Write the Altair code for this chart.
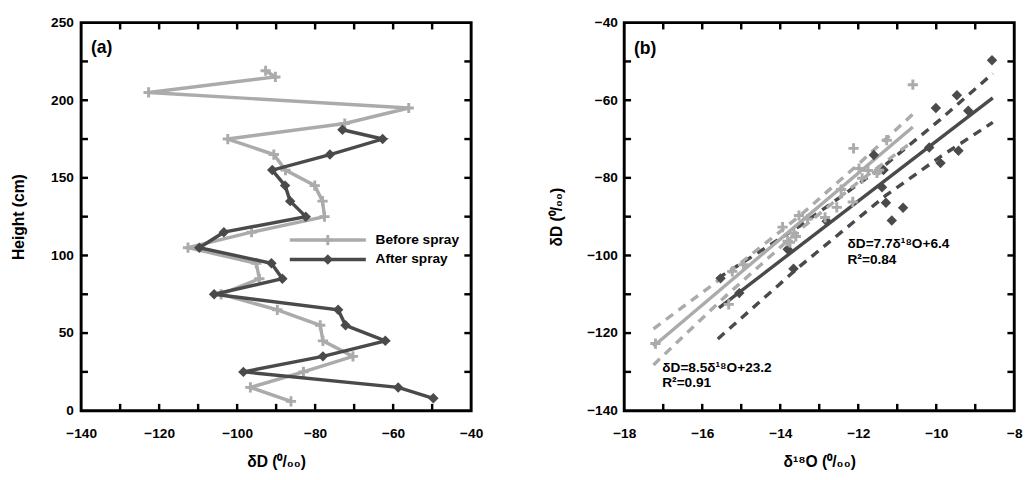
import altair as alt
import pandas as pd

# ---------------- Panel (a): height profiles ----------------
before_height = [219, 215, 205, 195, 185, 175, 165, 155, 145, 135, 125, 115, 105, 95, 85, 75, 65, 55, 45, 35, 25, 15, 6]
before_dD = [-92.7, -90.2, -122.7, -56.0, -72.4, -102.4, -90.6, -87.6, -80.1, -78.1, -77.6, -96.3,
             -112.6, -95.1, -94.3, -104.1, -89.7, -78.7, -78.0, -70.3, -83.0, -96.6, -86.2]
after_height = [181, 175, 165, 155, 145, 135, 125, 115, 105, 95, 85, 75, 65, 55, 45, 35, 25, 15, 8]
after_dD = [-73.0, -62.7, -76.2, -91.0, -87.7, -86.4, -82.4, -103.4, -109.7, -91.2, -88.4, -105.9,
            -74.1, -72.2, -62.0, -78.0, -98.4, -58.7, -49.7]

# ---------------- Panel (b): dD vs d18O ----------------
b_before_d18O = [-10.6, -11.27, -12.12, -11.98, -11.47, -11.75, -11.52, -11.9, -12.44, -12.14, -12.55, -13.52,
                 -12.85, -13.3, -13.94, -13.65, -13.6, -13.81, -13.75, -14.94, -15.23, -15.32, -17.2]
b_before_dD = [-56.0, -70.3, -72.4, -77.6, -78.0, -78.1, -78.7, -80.1, -83.0, -86.2, -87.6, -89.7,
               -90.2, -90.6, -92.7, -94.3, -95.1, -96.3, -96.6, -102.4, -104.1, -112.6, -122.7]
b_after_d18O = [-8.57, -9.47, -10.01, -9.18, -10.18, -9.43, -11.6, -9.89, -11.35, -11.39, -11.29, -10.85,
                -11.14, -12.81, -13.81, -13.66, -15.53, -15.05]
b_after_dD = [-49.7, -58.7, -62.0, -62.7, -72.2, -73.0, -74.1, -76.2, -78.0, -82.4, -86.4, -87.7,
              -91.0, -91.2, -98.4, -103.4, -105.9, -109.7]

fit_before_x = [-17.25, -10.6]
fit_before_y = [-123.4, -66.9]
fit_after_x = [-15.57, -8.55]
fit_after_y = [-113.5, -59.4]

band_before_x = [-17.25, -15.5, -13.5, -12.0, -10.6]
band_before_upper = [-118.9, -105.8, -89.8, -76.5, -63.6]
band_before_lower = [-128.2, -111.4, -93.4, -81.1, -70.6]
band_after_x = [-15.6, -13.5, -11.3, -9.9, -8.55]
band_after_upper = [-105.9, -92.4, -76.6, -65.0, -53.1]
band_after_lower = [-121.5, -102.8, -84.6, -74.6, -65.7]

# axis tick values
a_x_labels = [-140, -120, -100, -80, -60, -40]
a_y_labels = [0, 50, 100, 150, 200, 250]
a_x_ticks = [-130, -120, -110, -100, -90, -80, -70, -60, -50]
a_y_ticks = [25, 50, 75, 100, 125, 150, 175, 200, 225]
b_x_labels = [-18, -16, -14, -12, -10, -8]
b_y_labels = [-140, -120, -100, -80, -60, -40]
b_x_ticks = [-17, -16, -15, -14, -13, -12, -11, -10, -9]
b_y_ticks = [-130, -120, -110, -100, -90, -80, -70, -60, -50]

legend_labels = ["Before spray", "After spray"]
eq_after = ["δD=7.7δ¹⁸O+6.4", "R²=0.84"]
eq_before = ["δD=8.5δ¹⁸O+23.2", "R²=0.91"]

LIGHT = "#ababab"
DARK = "#4a4a4a"
FONT = "Liberation Sans"
W, H = 400, 398
TICK = 7
PLUS = "M-1,0L1,0M0,-1L0,1"


def inner_ticks(xvals, yvals, xf, yf):
    xs = pd.DataFrame({xf: xvals})
    ys = pd.DataFrame({yf: yvals})
    common = dict(color="black", strokeWidth=2.5)
    bottom = alt.Chart(xs).mark_rule(**common).encode(
        x=alt.X(f"{xf}:Q"), y=alt.value(H), y2=alt.value(H - TICK))
    top = alt.Chart(xs).mark_rule(**common).encode(
        x=alt.X(f"{xf}:Q"), y=alt.value(0), y2=alt.value(TICK))
    left = alt.Chart(ys).mark_rule(**common).encode(
        y=alt.Y(f"{yf}:Q"), x=alt.value(0), x2=alt.value(TICK))
    right = alt.Chart(ys).mark_rule(**common).encode(
        y=alt.Y(f"{yf}:Q"), x=alt.value(W), x2=alt.value(W - TICK))
    return [bottom, top, left, right]


def text_layer(txt, x, y, size=14):
    return alt.Chart(pd.DataFrame({"t": [txt]})).mark_text(
        align="left", baseline="middle", font=FONT, fontSize=size, fontWeight="bold", color="black"
    ).encode(x=alt.value(x), y=alt.value(y), text="t:N")


# ---------------- build panel (a) ----------------
xsc_a = alt.Scale(domain=[-140, -40], nice=False, zero=False)
ysc_a = alt.Scale(domain=[0, 250], nice=False, zero=False)
xax_a = alt.Axis(values=a_x_labels, title="δD (⁰/₀₀)", labelFlush=False, labelPadding=16, titlePadding=14,
                 labelOverlap=False)
yax_a = alt.Axis(values=a_y_labels, title="Height (cm)", labelPadding=8, titlePadding=25, labelOverlap=False)

dfa_b = pd.DataFrame({"dD": before_dD, "h": before_height, "i": list(range(len(before_dD)))})
dfa_a = pd.DataFrame({"dD": after_dD, "h": after_height, "i": list(range(len(after_dD)))})

line_b = alt.Chart(dfa_b).mark_line(color=LIGHT, strokeWidth=3.5).encode(
    x=alt.X("dD:Q", scale=xsc_a, axis=xax_a), y=alt.Y("h:Q", scale=ysc_a, axis=yax_a), order="i:Q")
pts_b = alt.Chart(dfa_b).mark_point(shape=PLUS, filled=False, size=110, strokeWidth=3, color=LIGHT, opacity=1).encode(
    x="dD:Q", y="h:Q")
line_a = alt.Chart(dfa_a).mark_line(color=DARK, strokeWidth=3.5).encode(
    x="dD:Q", y="h:Q", order="i:Q")
pts_a = alt.Chart(dfa_a).mark_point(shape="diamond", filled=True, size=115, color=DARK, opacity=1).encode(
    x="dD:Q", y="h:Q")

leg_df1 = pd.DataFrame({"t": [legend_labels[0]]})
leg_df2 = pd.DataFrame({"t": [legend_labels[1]]})
leg = [
    alt.Chart(leg_df1).mark_rule(color=LIGHT, strokeWidth=3.5).encode(
        x=alt.value(214), x2=alt.value(292), y=alt.value(223)),
    alt.Chart(leg_df1).mark_point(shape=PLUS, filled=False, size=110, strokeWidth=3, color=LIGHT, opacity=1).encode(
        x=alt.value(253), y=alt.value(223)),
    text_layer(legend_labels[0], 302, 223),
    alt.Chart(leg_df2).mark_rule(color=DARK, strokeWidth=3.5).encode(
        x=alt.value(214), x2=alt.value(292), y=alt.value(243)),
    alt.Chart(leg_df2).mark_point(shape="diamond", filled=True, size=115, color=DARK, opacity=1).encode(
        x=alt.value(253), y=alt.value(243)),
    text_layer(legend_labels[1], 302, 243),
]

panel_a = alt.layer(
    line_b, pts_b, line_a, pts_a,
    *inner_ticks(a_x_ticks, a_y_ticks, "dD", "h"),
    *leg,
    text_layer("(a)", 10, 26, 18),
).properties(width=W, height=H)

# ---------------- build panel (b) ----------------
xsc_b = alt.Scale(domain=[-18, -8], nice=False, zero=False)
ysc_b = alt.Scale(domain=[-140, -40], nice=False, zero=False)
xax_b = alt.Axis(values=b_x_labels, title="δ¹⁸O (⁰/₀₀)", labelFlush=False, labelPadding=16, titlePadding=14,
                 labelOverlap=False)
yax_b = alt.Axis(values=b_y_labels, title="δD (⁰/₀₀)", labelPadding=7, titlePadding=23, labelOverlap=False)

dfb_b = pd.DataFrame({"o": b_before_d18O, "d": b_before_dD})
dfb_a = pd.DataFrame({"o": b_after_d18O, "d": b_after_dD})
fit_b = pd.DataFrame({"o": fit_before_x, "d": fit_before_y})
fit_a = pd.DataFrame({"o": fit_after_x, "d": fit_after_y})
band_b = pd.DataFrame({"o": band_before_x * 2, "d": band_before_upper + band_before_lower,
                       "g": ["u"] * len(band_before_x) + ["l"] * len(band_before_x)})
band_a = pd.DataFrame({"o": band_after_x * 2, "d": band_after_upper + band_after_lower,
                       "g": ["u"] * len(band_after_x) + ["l"] * len(band_after_x)})

band_a_l = alt.Chart(band_a).mark_line(color=DARK, strokeWidth=3.5, strokeDash=[9, 7]).encode(
    x=alt.X("o:Q", scale=xsc_b, axis=xax_b), y=alt.Y("d:Q", scale=ysc_b, axis=yax_b), detail="g:N")
band_b_l = alt.Chart(band_b).mark_line(color=LIGHT, strokeWidth=3.5, strokeDash=[9, 7]).encode(
    x="o:Q", y="d:Q", detail="g:N")
fit_a_l = alt.Chart(fit_a).mark_line(color=DARK, strokeWidth=3.5).encode(x="o:Q", y="d:Q")
fit_b_l = alt.Chart(fit_b).mark_line(color=LIGHT, strokeWidth=3.5).encode(x="o:Q", y="d:Q")
sc_a = alt.Chart(dfb_a).mark_point(shape="diamond", filled=True, size=115, color=DARK, opacity=1).encode(
    x="o:Q", y="d:Q")
sc_b = alt.Chart(dfb_b).mark_point(shape=PLUS, filled=False, size=110, strokeWidth=3, color=LIGHT, opacity=1).encode(
    x="o:Q", y="d:Q")

panel_b = alt.layer(
    band_a_l, band_b_l, fit_a_l, fit_b_l, sc_a, sc_b,
    *inner_ticks(b_x_ticks, b_y_ticks, "o", "d"),
    text_layer(eq_after[0], 229, 227),
    text_layer(eq_after[1], 229, 244),
    text_layer(eq_before[0], 39, 354),
    text_layer(eq_before[1], 39, 370),
    text_layer("(b)", 10, 27, 18),
).properties(width=W, height=H)

chart = alt.hconcat(panel_a, panel_b, spacing=63).properties(
    padding={"left": 1, "top": 0, "right": 0, "bottom": 0},
    background="white",
).configure_view(stroke="black", strokeWidth=3).configure_axis(
    labelFont=FONT, titleFont=FONT, labelFontSize=14, titleFontSize=16,
    labelFontWeight="bold", titleFontWeight="bold", labelColor="black", titleColor="black",
    grid=False, domain=False, ticks=False,
)

chart.save("out.html", embed_options={"renderer": "svg", "actions": False})
